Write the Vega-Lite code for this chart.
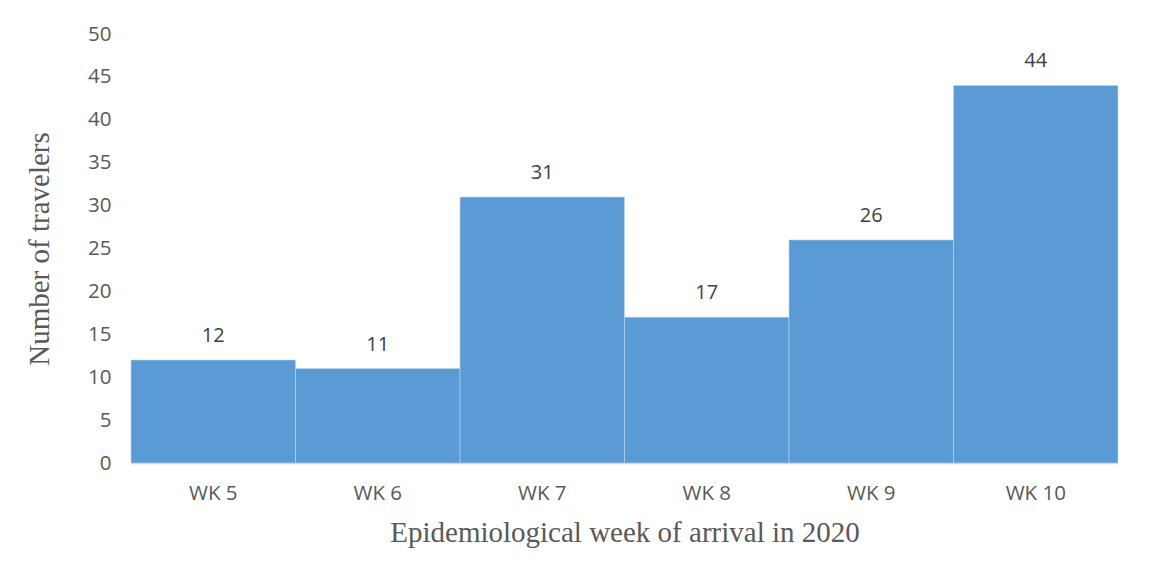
{
  "$schema": "https://vega.github.io/schema/vega-lite/v6.json",
  "width": 987,
  "height": 429,
  "autosize": {"type": "none"},
  "padding": {"left": 131, "top": 34, "right": 33, "bottom": 116},
  "background": "#ffffff",
  "config": {"view": {"stroke": null}},
  "data": {"values": [
    {"week": "WK 5", "n": 12},
    {"week": "WK 6", "n": 11},
    {"week": "WK 7", "n": 31},
    {"week": "WK 8", "n": 17},
    {"week": "WK 9", "n": 26},
    {"week": "WK 10", "n": 44}
  ]},
  "encoding": {
    "x": {
      "field": "week", "type": "nominal", "sort": null,
      "scale": {"paddingInner": 0, "paddingOuter": 0},
      "axis": {
        "title": "Epidemiological week of arrival in 2020",
        "titleFont": "Liberation Serif", "titleFontSize": 29, "titleFontWeight": "normal",
        "titleColor": "#595959", "titlePadding": 15,
        "labelFont": "Open Sans", "labelFontSize": 20.5, "labelColor": "#595959",
        "labelAngle": 0, "labelPadding": 20,
        "ticks": false, "domainColor": "#D9D9D9", "domainWidth": 1.5
      }
    },
    "y": {
      "field": "n", "type": "quantitative",
      "scale": {"domain": [0, 50]},
      "axis": {
        "title": "Number of travelers",
        "titleFont": "Liberation Serif", "titleFontSize": 29, "titleFontWeight": "normal",
        "titleColor": "#595959", "titlePadding": 33,
        "labelFont": "Open Sans", "labelFontSize": 20.5, "labelColor": "#595959",
        "labelPadding": 20, "values": [0,5,10,15,20,25,30,35,40,45,50],
        "ticks": false, "domain": false, "grid": false
      }
    }
  },
  "layer": [
    {"mark": {"type": "bar", "color": "#5B9BD5", "stroke": "#BDD7EE", "strokeWidth": 0.6}},
    {"mark": {"type": "text", "baseline": "alphabetic", "dy": -18, "font": "Open Sans", "fontSize": 20, "color": "#404040"},
     "encoding": {"text": {"field": "n", "type": "quantitative"}}}
  ]
}
